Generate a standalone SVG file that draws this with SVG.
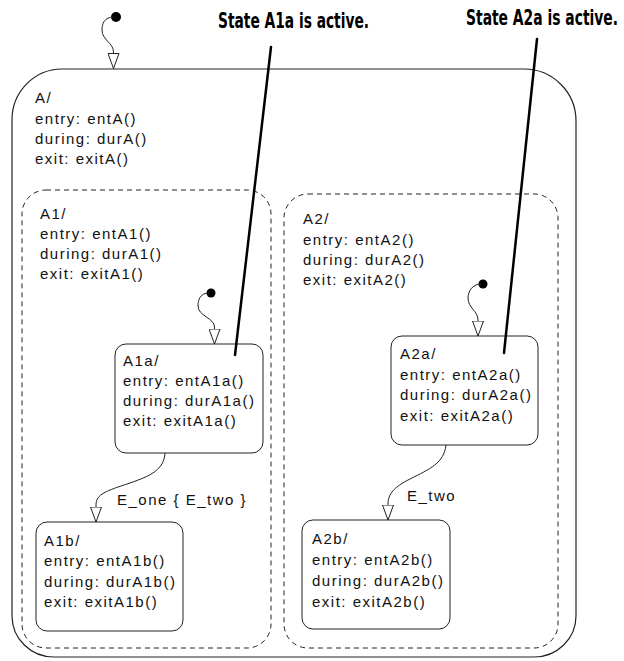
<svg xmlns="http://www.w3.org/2000/svg" width="624" height="661" viewBox="0 0 624 661">
<style>
.st{fill:#fff;stroke:#222;stroke-width:1}
.outer{fill:none;stroke:#222;stroke-width:1.2}
.dash{fill:none;stroke:#222;stroke-width:1;stroke-dasharray:5 4}
.t{font-family:"Liberation Sans",Arial,sans-serif;font-size:15px;letter-spacing:1.5px;fill:#111}
.tr{fill:none;stroke:#222;stroke-width:1;marker-end:url(#arr)}
.dot{fill:#000}
.call{stroke:#000;stroke-width:2.5;stroke-linecap:round}
.ct{font-family:"DejaVu Sans Condensed","DejaVu Sans",sans-serif;font-weight:bold;font-size:21px;fill:#000}
</style>
<defs>
<marker id="arr" viewBox="0 0 16 12" refX="15.5" refY="6" markerWidth="16" markerHeight="12" markerUnits="userSpaceOnUse" orient="auto">
<path d="M0.5,0.5 L15.5,6 L0.5,11.5 Z" fill="#fff" stroke="#222" stroke-width="1"/>
</marker>
</defs>
<rect width="624" height="661" fill="#fff"/>
<g id="A">
<path class="outer" d="M62,69 H524 A52,52 0 0 1 576,121 V616 A42,41 0 0 1 534,657 H54 A42,41 0 0 1 12,616 V120 A50,51 0 0 1 62,69 Z"/>
<text class="t"><tspan x="35" y="103">A/</tspan><tspan x="35" y="124">entry: entA()</tspan><tspan x="35" y="144">during: durA()</tspan><tspan x="35" y="164">exit: exitA()</tspan></text>
</g>
<g id="A1">
<rect class="dash" x="22" y="190" width="249" height="458" rx="24"/>
<text class="t"><tspan x="40" y="219">A1/</tspan><tspan x="40" y="239">entry: entA1()</tspan><tspan x="40" y="259">during: durA1()</tspan><tspan x="40" y="279">exit: exitA1()</tspan></text>
</g>
<g id="A2">
<rect class="dash" x="284" y="194" width="274" height="454" rx="24"/>
<text class="t"><tspan x="303" y="224">A2/</tspan><tspan x="303" y="245">entry: entA2()</tspan><tspan x="303" y="265">during: durA2()</tspan><tspan x="303" y="285">exit: exitA2()</tspan></text>
</g>
<g id="A1a">
<rect class="st" x="115" y="344" width="148" height="109" rx="11"/>
<text class="t"><tspan x="123" y="366">A1a/</tspan><tspan x="123" y="386">entry: entA1a()</tspan><tspan x="123" y="406">during: durA1a()</tspan><tspan x="123" y="426">exit: exitA1a()</tspan></text>
</g>
<g id="A1b">
<rect class="st" x="36" y="522" width="147" height="109" rx="11"/>
<text class="t"><tspan x="44" y="546">A1b/</tspan><tspan x="44" y="566">entry: entA1b()</tspan><tspan x="44" y="587">during: durA1b()</tspan><tspan x="44" y="607">exit: exitA1b()</tspan></text>
</g>
<g id="A2a">
<rect class="st" x="391" y="336" width="147" height="109" rx="11"/>
<text class="t"><tspan x="400" y="359">A2a/</tspan><tspan x="400" y="380">entry: entA2a()</tspan><tspan x="400" y="400">during: durA2a()</tspan><tspan x="400" y="421">exit: exitA2a()</tspan></text>
</g>
<g id="A2b">
<rect class="st" x="302" y="520" width="148" height="109" rx="11"/>
<text class="t"><tspan x="312" y="544">A2b/</tspan><tspan x="312" y="565">entry: entA2b()</tspan><tspan x="312" y="586">during: durA2b()</tspan><tspan x="312" y="607">exit: exitA2b()</tspan></text>
</g>
<g id="connectors">
<circle class="dot" cx="116" cy="17" r="5"/>
<path class="tr" d="M114,17 C104,17 102,24 102,30 C102,40 113.5,43 113.5,52 L113.5,68.5"/>
<circle class="dot" cx="211" cy="293" r="4.5"/>
<path class="tr" d="M209,293 C200,293 198,300 198,306 C198,316 214.5,318 214.5,327 L214.5,344"/>
<circle class="dot" cx="483" cy="284" r="4.5"/>
<path class="tr" d="M481,284 C472,284 468,292 468,298 C468,308 478,311 478,320 L478,336"/>
<path class="tr" d="M165,453 C164,470 150,476 130,483 C106,491 96,494 96,505 L96,522"/>
<text class="t" x="117" y="505">E_one { E_two }</text>
<path class="tr" d="M446,445 C444,463 430,469 410,479 C394,487 388,494 388,504 L388,520"/>
<text class="t" x="407" y="501">E_two</text>
</g>
<g id="callouts">
<line class="call" x1="271" y1="47" x2="235" y2="355"/>
<text class="ct" x="218" y="28" textLength="151" lengthAdjust="spacingAndGlyphs">State A1a is active.</text>
<line class="call" x1="537" y1="39" x2="504" y2="353"/>
<text class="ct" x="466" y="25" textLength="152" lengthAdjust="spacingAndGlyphs">State A2a is active.</text>
</g>
</svg>
